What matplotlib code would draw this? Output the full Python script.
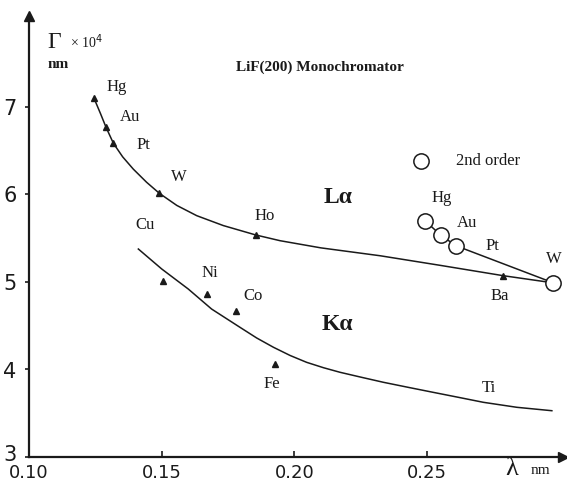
import matplotlib
matplotlib.use("Agg")
import matplotlib.pyplot as plt
import matplotlib.transforms as mtransforms

# ---- data ----
la_elements = ["Hg", "Au", "Pt", "W", "Ho", "Ba"]
la_lambda = [0.1245, 0.1290, 0.1318, 0.1491, 0.1855, 0.2787]
la_gamma = [7.10, 6.77, 6.585, 6.014, 5.537, 5.072]

# L-alpha fitted curve
la_curve_x = [0.1245, 0.1270, 0.1290, 0.1318, 0.1353, 0.1393, 0.1443, 0.1491, 0.1557,
              0.1632, 0.1732, 0.1855, 0.1946, 0.2100, 0.2323, 0.2550, 0.2787, 0.2976]
la_curve_y = [7.10, 6.92, 6.77, 6.585, 6.43, 6.29, 6.14, 6.014, 5.875,
              5.758, 5.645, 5.537, 5.472, 5.39, 5.30, 5.19, 5.072, 4.99]

ka_elements = ["Cu", "Ni", "Co", "Fe"]
ka_lambda = [0.1506, 0.1670, 0.1780, 0.1927]
ka_gamma = [5.015, 4.863, 4.665, 4.063]

# K-alpha fitted curve
ka_curve_x = [0.1412, 0.1500, 0.1600, 0.1688, 0.1795, 0.1858, 0.1921, 0.1984, 0.2046,
              0.2110, 0.2172, 0.2254, 0.2335, 0.2429, 0.2523, 0.2618, 0.2712, 0.2838, 0.2970]
ka_curve_y = [5.377, 5.149, 4.920, 4.691, 4.482, 4.36, 4.254, 4.16, 4.082,
              4.02, 3.968, 3.91, 3.854, 3.796, 3.739, 3.682, 3.625, 3.568, 3.529]

# second order reflections
so_elements = ["Hg", "Au", "Pt", "W"]
so_lambda = [0.2492, 0.2551, 0.2608, 0.2976]
so_gamma = [5.70, 5.537, 5.415, 4.99]

x_ticks = [0.10, 0.15, 0.20, 0.25]
x_ticklabels = ["0.10", "0.15", "0.20", "0.25"]
y_ticks = [3, 4, 5, 6, 7]
y_ticklabels = ["3", "4", "5", "6", "7"]

# ---- figure ----
W, H = 567, 484
fig = plt.figure(figsize=(W / 100, H / 100), dpi=100)
ax = fig.add_axes([29 / W, 27 / H, 534 / W, 441 / H])
ax.set_xlim(0.10, 0.3012)
ax.set_ylim(3.0, 8.04)

def P(px, py):
    """reference pixel position -> data coords (for text placement)"""
    return 0.10 + (px - 29) / 2654.0, 7 - (py - 108) / 87.5

serif = "Liberation Serif"
ink = "#1a1a1a"

# curves
ax.plot(la_curve_x, la_curve_y, color=ink, lw=1.1, solid_joinstyle="round")
ax.plot(ka_curve_x, ka_curve_y, color=ink, lw=1.1, solid_joinstyle="round")
ax.plot(so_lambda, so_gamma, color=ink, lw=1.1)

# markers
ax.plot(la_lambda, la_gamma, "^", color=ink, ms=5, ls="none")
ax.plot(ka_lambda, ka_gamma, "^", color=ink, ms=5, ls="none")
ax.plot(so_lambda, so_gamma, "o", mfc="white", mec=ink, mew=1.1, ms=11, ls="none", clip_on=False, zorder=5)

# legend circle
lx, ly = P(421, 162)
ax.plot([lx], [ly], "o", mfc="white", mec=ink, mew=1.1, ms=11)
ax.text(*P(488, 162), "2nd order", family=serif, fontsize=12, ha="center", va="center", color=ink)

# element labels
la_label_px = [(117, 88), (130, 118), (143, 146), (179, 178), (265, 217), (500, 297)]
for name, (px, py) in zip(la_elements, la_label_px):
    ax.text(*P(px, py), name, family=serif, fontsize=12, ha="center", va="center", color=ink)

ka_label_px = [(145, 226), (210, 274), (253, 297), (272, 385)]
for name, (px, py) in zip(ka_elements, ka_label_px):
    ax.text(*P(px, py), name, family=serif, fontsize=12, ha="center", va="center", color=ink)
ax.text(*P(489, 389), "Ti", family=serif, fontsize=12, ha="center", va="center", color=ink)

so_label_px = [(442, 199), (467, 224), (492, 247), (554, 260)]
for name, (px, py) in zip(so_elements, so_label_px):
    ax.text(*P(px, py), name, family=serif, fontsize=12, ha="center", va="center", color=ink)

ax.text(*P(338, 199), "L\u03b1", family=serif, fontsize=17, fontweight="bold", ha="center", va="center", color=ink)
ax.text(*P(337, 325), "K\u03b1", family=serif, fontsize=17, fontweight="bold", ha="center", va="center", color=ink)

ax.text(*P(320, 68), "LiF(200) Monochromator", family=serif, fontsize=11, fontweight="bold",
        ha="center", va="center", color=ink)

# axis title on y
ax.text(*P(54, 44), "\u0393", family=serif, fontsize=17, ha="center", va="center", color=ink, clip_on=False)
ax.text(*P(86, 43), "\u00d7 10$^4$", family=serif, fontsize=10, ha="center", va="center", color=ink, clip_on=False)
ax.text(*P(58, 66), "nm", family=serif, fontsize=11, fontweight="bold", ha="center", va="center", color=ink, clip_on=False)

# x axis title
ax.text(*P(512, 470), "\u03bb", family=serif, fontsize=19, ha="center", va="center", color=ink, clip_on=False)
ax.text(*P(540, 472), "nm", family=serif, fontsize=11, ha="center", va="center", color=ink, clip_on=False)

# axes styling
for s in ["top", "right"]:
    ax.spines[s].set_visible(False)
for s in ["left", "bottom"]:
    ax.spines[s].set_linewidth(1.6)
    ax.spines[s].set_color(ink)
ax.plot(1, 0, ">", color=ink, ms=7, transform=ax.transAxes, clip_on=False)
ax.plot(0, 1, "^", color=ink, ms=7, transform=ax.transAxes, clip_on=False)

ax.set_xticks(x_ticks)
ax.set_xticklabels(x_ticklabels, fontsize=13, family="DejaVu Sans")
ax.set_yticks(y_ticks)
ax.set_yticklabels(y_ticklabels, fontsize=15, family="DejaVu Sans")
ax.tick_params(axis="x", direction="in", length=4, width=1.2, colors=ink, pad=5)
ax.tick_params(axis="y", direction="out", length=3, width=1.2, colors=ink, pad=6)

# lift the "3" label slightly so it clears the x tick labels (as in the reference)
lbl3 = ax.get_yticklabels()[0]
lbl3.set_transform(lbl3.get_transform() + mtransforms.ScaledTranslation(0, 4 / 100, fig.dpi_scale_trans))

fig.savefig("out.png", dpi=100)
